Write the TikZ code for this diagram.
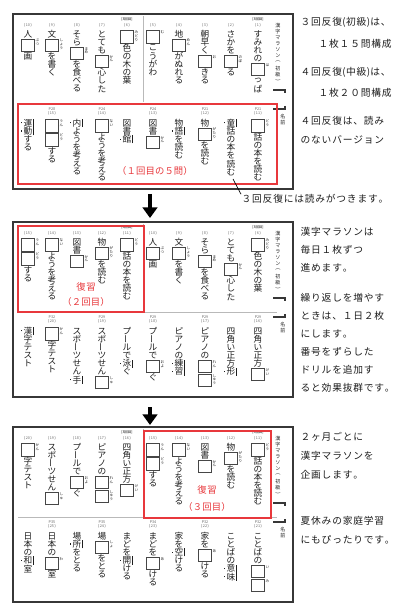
\documentclass[tikz,border=0pt]{standalone}
\usepackage{fontspec}
\usepackage{graphicx}
\setmainfont{Noto Sans CJK JP}
\usetikzlibrary{arrows.meta}
\definecolor{redbox}{RGB}{232,56,60}
\definecolor{framec}{RGB}{55,55,55}
\definecolor{sepc}{RGB}{185,185,185}
\definecolor{txtc}{RGB}{30,30,30}
\definecolor{boxc}{RGB}{70,70,70}
\makeatletter
\newdimen\chp \chp=6.1pt
\newdimen\cw \cw=8pt
\newdimen\bxh \bxh=10.5pt
\newdimen\bxs \bxs=9.8pt
\newdimen\fp \fp=2.9pt
\newdimen\hpitch \hpitch=7.9pt
\newcommand\vone[1]{\hbox to\cw{\hss\vbox to\chp{\vss\hbox{#1}\vss}\hss}}
\newcommand\vcs[1]{\@tfor\vtk:=#1\do{\vone{\vtk}}}
\newcommand\vmk[1]{\hbox to\cw{\hss\llap{\raise0.45\chp\hbox{\vrule width0.9pt height0.9pt}\kern1pt}\vbox to\chp{\vss\hbox{#1}\vss}\rlap{\kern0.5pt\vrule width0.55pt height\chp depth0pt}\hss}}
\newcommand\vfur[1]{\vtop{\offinterlineskip\fontsize{2.7}{2.9}\selectfont\@tfor\vtk:=#1\do{\hbox to 3pt{\hss\vbox to\fp{\vss\hbox{\vtk}\vss}\hss}}}}
\newcommand\vkbox{\hbox{\color{boxc}\vrule width0.75pt\vbox{\hrule height0.75pt\hbox to\dimexpr\bxs-1.5pt\relax{\vrule width0pt height\dimexpr\bxs-1.5pt\relax\hss}\hrule height0.75pt}\vrule width0.75pt}}
\newcommand\vbx[1]{\hbox to\cw{\hss\hbox to0pt{\hss\vbox to\bxh{\vss\vkbox\vss}\hss}\rlap{\kern0.5\bxs\kern0.7pt\smash{\raise\dimexpr0.5\bxh+0.5\bxs-\fp\relax\hbox{\vfur{#1}}}}\hss}}
\newcommand\hcs[1]{\@tfor\vtk:=#1\do{\hbox to\hpitch{\hss\vtk\hss}}}
\newcommand\vcol[1]{\vbox{\offinterlineskip #1}}
\newcommand\defq[2]{\expandafter\def\csname qq#1\endcsname{#2}}
\newcommand\useq[1]{\csname qq#1\endcsname}
\makeatother
\newcommand\vlv{\rotatebox[origin=c]{90}{ー}}
\newcommand\vlp{\rotatebox[origin=c]{-90}{(}}
\newcommand\vrp{\rotatebox[origin=c]{-90}{)}}
\defq{1}{\vcs{すみれの}\vbx{は}\vcs{っぱ}}
\defq{2}{\vcs{さかを}\vbx{のぼ}\vcs{る}}
\defq{3}{\vcs{朝早く}\vbx{お}\vcs{きる}}
\defq{4}{\vcs{地}\vbx{めん}\vcs{がぬれる}}
\defq{5}{\vbx{む}\vcs{こうがわ}}
\defq{6}{\vbx{みどり}\vcs{色の木の葉}}
\defq{7}{\vcs{とても}\vbx{かん}\vcs{心した}}
\defq{8}{\vcs{そら}\vbx{まめ}\vcs{を食べる}}
\defq{9}{\vcs{文}\vbx{しょう}\vcs{を書く}}
\defq{10}{\vcs{人}\vbx{ぶつ}\vcs{画}}
\defq{11}{\vbx{どう}\vcs{話の本を読む}}
\defq{12}{\vcs{物}\vbx{がたり}\vcs{を読む}}
\defq{13}{\vcs{図書}\vbx{かん}}
\defq{14}{\vbx{ない}\vcs{ようを考える}}
\defq{15}{\vbx{うん}\vbx{どう}\vcs{する}}
\defq{16}{\vcs{四角い正方}\vbx{けい}}
\defq{17}{\vcs{ピアノの}\vbx{れん}\vbx{しゅう}}
\defq{18}{\vcs{プ\vlv ルで}\vbx{およ}\vcs{ぐ}}
\defq{19}{\vcs{スポ\vlv ツせん}\vbx{しゅ}}
\defq{20}{\vbx{かん}\vcs{字テスト}}
\defq{21}{\vcs{ことばの}\vbx{い}\vbx{み}}
\defq{22}{\vcs{家を}\vbx{あ}\vcs{ける}}
\defq{23}{\vcs{まどを}\vbx{あ}\vcs{ける}}
\defq{24}{\vcs{場}\vbx{しょ}\vcs{をとる}}
\defq{25}{\vcs{日本の}\vbx{わ}\vcs{室}}
\defq{r11}{\vmk{童}\vcs{話の本を読む}}
\defq{r12}{\vcs{物}\vmk{語}\vcs{を読む}}
\defq{r13}{\vcs{図書}\vmk{館}}
\defq{r14}{\vmk{内}\vcs{ようを考える}}
\defq{r15}{\vmk{運}\vmk{動}\vcs{する}}
\defq{r16}{\vcs{四角い正方}\vmk{形}}
\defq{r17}{\vcs{ピアノの}\vmk{練}\vmk{習}}
\defq{r18}{\vcs{プ\vlv ルで}\vmk{泳}\vcs{ぐ}}
\defq{r19}{\vcs{スポ\vlv ツせん}\vmk{手}}
\defq{r20}{\vmk{漢}\vcs{字テスト}}
\defq{r21}{\vcs{ことばの}\vmk{意}\vmk{味}}
\defq{r22}{\vcs{家を}\vmk{空}\vcs{ける}}
\defq{r23}{\vcs{まどを}\vmk{開}\vcs{ける}}
\defq{r24}{\vcs{場}\vmk{所}\vcs{をとる}}
\defq{r25}{\vcs{日本の}\vmk{和}\vcs{室}}
\newcommand\topsec[2]{%
 \foreach \n [count=\k from 0] in {#2}{%
  \pgfmathsetmacro\xx{{258,231,205,179,153,127,102,77,52,28}[\k]}%
  \node[num] (#1n\n) at (\xx,11) {(\,\n\,)};
  \node[col] (#1q\n) at (\xx,16) {\vcol{\useq{\n}}};
 }}
\newcommand\botsec[2]{%
 \foreach \n/\pg [count=\k from 0] in {#2}{%
  \pgfmathsetmacro\xa{{258,231,205,179,153,127,102,77,52,28}[2*\k]}%
  \pgfmathsetmacro\xb{{258,231,205,179,153,127,102,77,52,28}[2*\k+1]}%
  \node[num] (#1p\n) at (\xa,95) {\pg};
  \node[num] (#1n\n) at (\xa,99.5) {(\,\n\,)};
  \node[col] (#1q\n) at (\xa,105) {\vcol{\useq{\n}}};
  \node[col] (#1r\n) at (\xb,105) {\vcol{\useq{r\n}}};
 }}
\newcommand\chrome[1]{%
 \draw[sepl] (143,2) -- (143,88);
 \draw[sepl] (18,90) -- (277,90);
 \draw[framel] (13,0) rectangle (293,175);
 \node[ttl] (#1ttl) at (278,8) {\vcol{\chp=4.6pt\cw=5pt\vcs{漢字マラソン}\vone{\vlp}\vcs{初級}\vone{\vrp}}};
 \draw[brk] (273,76) -- (285,76) -- (285,79);
 \draw[brk] (285,92) -- (285,95) -- (273,95);
 \node[ttl] (#1nm) at (283,99) {\vcol{\chp=4.6pt\cw=5pt\vcs{名前}}};
 \node[lab] (#1la) at (258,5.5) {[3回目]};
 \node[lab] (#1lb) at (127,5.5) {[3回目]};
}
\begin{document}
\begin{tikzpicture}[x=0.75pt,y=-0.75pt,
  col/.style={anchor=north,inner sep=0pt,outer sep=0pt,font=\fontsize{6.5}{6.5}\selectfont,text=txtc},
  num/.style={inner sep=0pt,font=\fontsize{2.8}{3}\selectfont,text=black!60},
  lab/.style={inner sep=0pt,font=\fontsize{2.6}{3}\selectfont,text=black},
  ttl/.style={anchor=north,inner sep=0pt,font=\fontsize{3.8}{4}\selectfont,text=txtc},
  framel/.style={draw=framec,line width=1.1pt},
  sepl/.style={draw=sepc,line width=0.6pt},
  redl/.style={draw=redbox,line width=0.9pt},
  redt/.style={inner sep=0pt,text=redbox,font=\fontsize{7}{8}\selectfont},
  rtxt/.style={anchor=west,inner sep=0pt,text=txtc,font=\fontsize{7.3}{8}\selectfont},
  brk/.style={draw=framec,line width=0.9pt},
  bigarrow/.style={line width=3.6pt,-{Triangle[width=11pt,length=8pt]}},
  ptrl/.style={draw=black,line width=0.5pt}]
\fill[white] (0,0) rectangle (400,605);
\useasboundingbox (0,0) rectangle (400,605);
% ---------- panel 1
\begin{scope}[shift={(0,14)}]
 \chrome{pa}
 \topsec{pa}{1,...,10}
 \botsec{pa}{11/P21,12/P21,13/P24,14/P24,15/P28}
 \draw[redl] (18,90) rectangle (277,170);
 \node[redt] (pared) at (155,157) {\hpitch=7.1pt\hcs{（１回目の５問）}};
\end{scope}
% ---------- panel 2
\begin{scope}[shift={(0,222)}]
 \chrome{pb}
 \topsec{pb}{6,...,15}
 \botsec{pb}{16/P29,17/P29,18/P29,19/P29,20/P32}
 \draw[redl] (18,4) rectangle (144,90);
 \node[redt] (pbr1) at (86,65) {\hpitch=7.6pt\hcs{復習}};
 \node[redt] (pbr2) at (86,80) {\hpitch=7.1pt\hcs{（２回目）}};
\end{scope}
% ---------- panel 3
\begin{scope}[shift={(0,427)}]
 \chrome{pc}
 \topsec{pc}{11,...,20}
 \botsec{pc}{21/P32,22/P32,23/P34,24/P35,25/P35}
 \draw[redl] (144,4) rectangle (271,91);
 \node[redt] (pcr1) at (207,63) {\hpitch=7.6pt\hcs{復習}};
 \node[redt] (pcr2) at (207,80) {\hpitch=7.1pt\hcs{（３回目）}};
\end{scope}
% ---------- arrows
\coordinate (a1s) at (150,194);
\coordinate (a1e) at (150,218);
\draw[bigarrow] (a1s) -- (a1e);
\coordinate (a2s) at (150,407);
\coordinate (a2e) at (150,425);
\draw[bigarrow] (a2s) -- (a2e);
% ---------- side texts
\node[rtxt] (t1a) at (300,22) {\hcs{３回反復}(\hcs{初級})\hcs{は、}};
\node[rtxt] (t1b) at (318,44) {\hcs{１枚１５問構成}};
\node[rtxt] (t1c) at (300,72) {\hcs{４回反復}(\hcs{中級})\hcs{は、}};
\node[rtxt] (t1d) at (318,93) {\hcs{１枚２０問構成}};
\node[rtxt] (t1e) at (300,121) {\hcs{４回反復は、読み}};
\node[rtxt] (t1f) at (300,140) {\hcs{のないバ}\hcs{ージョン}};
\node[rtxt] (note1) at (241,199) {\hcs{３回反復には読みがつきます。}};
\coordinate (ptr) at (233,179);
\draw[ptrl] (ptr) -- (note1.north west);
\node[rtxt] (t2a) at (300,232) {\hcs{漢字マラソンは}};
\node[rtxt] (t2b) at (300,250) {\hcs{毎日１枚ずつ}};
\node[rtxt] (t2c) at (300,268) {\hcs{進めます。}};
\node[rtxt] (t2d) at (300,298) {\hcs{繰り返しを増やす}};
\node[rtxt] (t2e) at (300,316) {\hcs{ときは、１日２枚}};
\node[rtxt] (t2f) at (300,334) {\hcs{にします。}};
\node[rtxt] (t2g) at (300,352) {\hcs{番号をずらした}};
\node[rtxt] (t2h) at (300,370) {\hcs{ドリルを追加す}};
\node[rtxt] (t2i) at (300,388) {\hcs{ると効果抜群です。}};
\node[rtxt] (t3a) at (300,437) {\hcs{２ヶ月ごとに}};
\node[rtxt] (t3b) at (300,456) {\hcs{漢字マラソンを}};
\node[rtxt] (t3c) at (300,475) {\hcs{企画します。}};
\node[rtxt] (t3d) at (300,521) {\hcs{夏休みの家庭学習}};
\node[rtxt] (t3e) at (300,540) {\hcs{にもぴったりです。}};
\end{tikzpicture}
\end{document}
